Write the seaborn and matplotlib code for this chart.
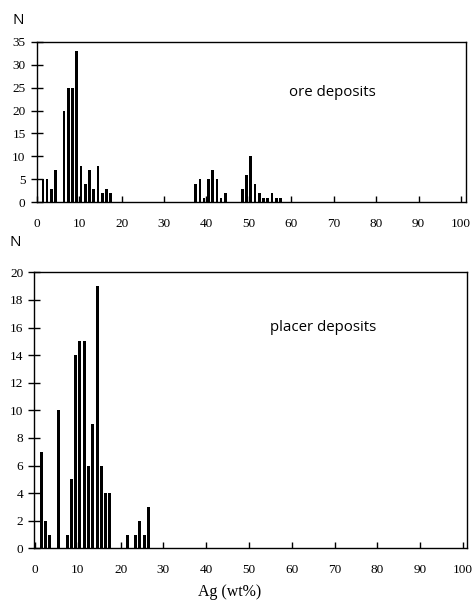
import numpy as np
import pandas as pd
import matplotlib
matplotlib.use("Agg")
import matplotlib.pyplot as plt
import seaborn as sns

# ---- data ----
ore_ag = [1, 2, 3, 4, 6, 7, 8, 9, 10, 11, 12, 13, 14, 15, 16, 17,
          37, 38, 39, 40, 41, 42, 43, 44,
          48, 49, 50, 51, 52, 53, 54, 55, 56, 57]
ore_n = [5, 5, 3, 7, 20, 25, 25, 33, 8, 4, 7, 3, 8, 2, 3, 2,
         4, 5, 1, 5, 7, 5, 1, 2,
         3, 6, 10, 4, 2, 1, 1, 2, 1, 1]

placer_ag = [1, 2, 3, 5, 7, 8, 9, 10, 11, 12, 13, 14, 15, 16, 17,
             21, 23, 24, 25, 26]
placer_n = [7, 2, 1, 10, 1, 5, 14, 15, 15, 6, 9, 19, 6, 4, 4,
            1, 1, 2, 1, 3]

x_ticks = [0, 10, 20, 30, 40, 50, 60, 70, 80, 90, 100]
ore_yticks = [0, 5, 10, 15, 20, 25, 30, 35]
placer_yticks = [0, 2, 4, 6, 8, 10, 12, 14, 16, 18, 20]

sns.set_theme(style="white")
plt.rcParams["font.family"] = ["Liberation Serif", "DejaVu Serif"]
plt.rcParams["text.color"] = "black"
plt.rcParams["xtick.color"] = "black"
plt.rcParams["ytick.color"] = "black"
plt.rcParams["axes.labelcolor"] = "black"

W, H = 476, 601
fig = plt.figure(figsize=(W / 100, H / 100), dpi=100)

def px_axes(left, top, right, bottom):
    return fig.add_axes([left / W, 1 - bottom / H, (right - left) / W, (bottom - top) / H])

ax1 = px_axes(36.7, 41.7, 465.7, 202.3)
ax2 = px_axes(34.3, 272.3, 467.3, 548.3)

df1 = pd.DataFrame({"ag": np.array(ore_ag) + 0.45, "n": ore_n})
df2 = pd.DataFrame({"ag": np.array(placer_ag) + 0.5, "n": placer_n})

sns.barplot(data=df1, x="ag", y="n", native_scale=True, width=0.62,
            color="black", linewidth=0, saturation=1, ax=ax1)
sns.barplot(data=df2, x="ag", y="n", native_scale=True, width=0.7,
            color="black", linewidth=0, saturation=1, ax=ax2)

for ax, yt, xlim in [(ax1, ore_yticks, (0, 101.1)), (ax2, placer_yticks, (-0.16, 101.0))]:
    ax.set_xlim(*xlim)
    ax.set_ylim(yt[0], yt[-1])
    ax.set_xticks(x_ticks)
    ax.set_xticklabels([str(v) for v in x_ticks])
    ax.set_yticks(yt)
    ax.set_yticklabels([str(v) for v in yt])
    ax.set_xlabel("")
    ax.set_ylabel("")
    for s in ax.spines.values():
        s.set_visible(True)
        s.set_color("black")
        s.set_linewidth(1.0)
    ax.tick_params(axis="x", direction="in", length=4, width=1, color="black",
                   labelcolor="black", labelsize=9.5, pad=11, bottom=True, top=False)
    ax.tick_params(axis="y", direction="inout", length=8, width=1, color="black",
                   labelcolor="black", labelsize=9.5, pad=4, left=True, right=False)
    ax.grid(False)

sans = ["Open Sans", "DejaVu Sans"]
ax1.text(59.5, 24.0, "ore deposits", ha="left", va="center",
         fontsize=10.8, family=sans, color="black")
ax2.text(54.9, 16.0, "placer deposits", ha="left", va="center",
         fontsize=10.8, family=sans, color="black")

fig.text(18 / W, 1 - 20 / H, "N", ha="center", va="center", fontsize=11,
         family=sans, color="black")
fig.text(15 / W, 1 - 243 / H, "N", ha="center", va="center", fontsize=11,
         family=sans, color="black")
fig.text(230 / W, 1 - 592 / H, "Ag (wt%)", ha="center", va="center",
         fontsize=11.5, color="black")

fig.savefig("out.png", dpi=100)
